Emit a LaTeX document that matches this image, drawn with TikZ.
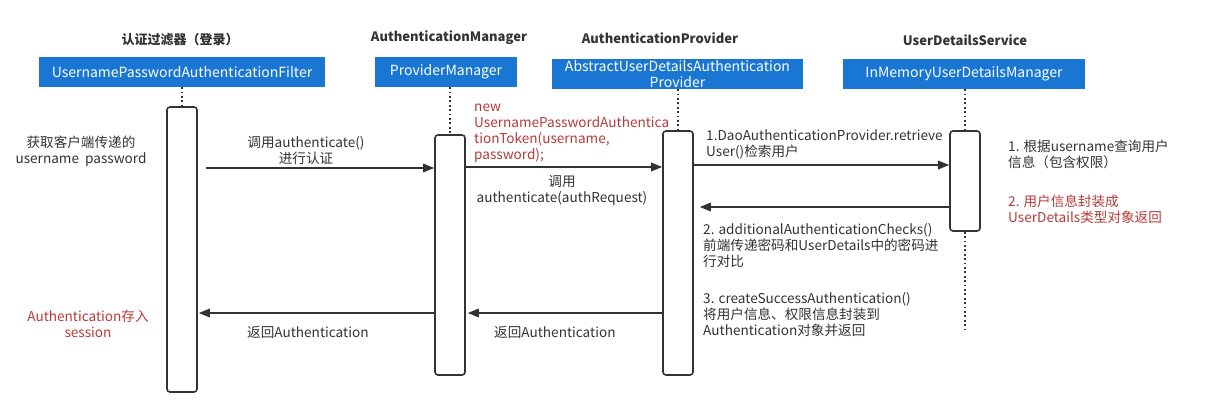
\documentclass[tikz,border=0pt]{standalone}
\usepackage{fontspec}
\setmainfont{Noto Sans CJK SC}
\usetikzlibrary{arrows.meta}
\definecolor{hdr}{HTML}{1976D2}
\definecolor{ink}{HTML}{333333}
\definecolor{redtxt}{HTML}{B83A3A}
\begin{document}
\begin{tikzpicture}[x=1pt,y=-1pt,
  title/.style={font=\fontsize{13}{16}\selectfont\bfseries, text=ink, inner sep=0pt},
  header/.style={fill=hdr, text=white, font=\fontsize{14}{16}\selectfont, inner sep=0pt, align=center, minimum height=30pt},
  act/.style={draw=ink, line width=1.6pt, rounded corners=3pt, fill=white, minimum width=30pt, inner sep=0pt},
  life/.style={draw=ink, line width=1.8pt, dash pattern=on 1.8pt off 2.6pt},
  msg/.style={draw=ink, line width=1.6pt, -{Triangle[length=11pt,width=8.5pt]}},
  txt/.style={font=\fontsize{13.6}{16}\selectfont, text=ink, inner sep=0pt},
  redt/.style={txt, text=redtxt}]
\useasboundingbox[fill=white] (0,0) rectangle (1210,407);

% titles
\node[title] (t1) at (180,40) {认证过滤器（登录）};
\node[title] (t2) at (449,38) {AuthenticationManager};
\node[title] (t3) at (660,38) {AuthenticationProvider};
\node[title] (t4) at (965,40) {UserDetailsService};

% headers
\node[header, minimum width=286pt] (h1) at (182,72) {UsernamePasswordAuthenticationFilter};
\node[header, minimum width=142pt] (h2) at (446,72) {ProviderManager};
\node[header, minimum width=251pt] (h3) at (677.5,74) {AbstractUserDetailsAuthentication\\Provider};
\node[header, minimum width=242pt] (h4) at (964,74) {InMemoryUserDetailsManager};

% activation bars
\node[act, minimum height=285pt] (a1) at (182,249.5) {};
\node[act, minimum height=240pt] (a2) at (450,255) {};
\node[act, minimum height=244pt] (a3) at (678,253) {};
\node[act, minimum height=100pt] (a4) at (965,181) {};

% lifelines
\draw[life] (a1.north |- h1.south) -- (a1.north);
\draw[life] (a2.north |- h2.south) -- (a2.north);
\draw[life] (a3.north |- h3.south) -- (a3.north);
\draw[life] (a4.north |- h4.south) -- (a4.north);
\coordinate (e4) at (965,332);
\draw[life] (a4.south) -- (e4);

% message levels
\coordinate (y1) at (0,168);
\coordinate (y2) at (0,167);
\coordinate (y3) at (0,165);
\coordinate (y4) at (0,207);
\coordinate (y5) at (0,313);

\draw[msg] ([xshift=8pt]a1.east |- y1) -- (a2.west |- y1);
\draw[msg] (a2.east |- y2) -- (a3.west |- y2);
\draw[msg] (a3.east |- y3) -- (a4.west |- y3);
\draw[msg] (a4.west |- y4) -- ([xshift=6pt]a3.east |- y4);
\draw[msg] (a3.west |- y5) -- ([xshift=2pt]a2.east |- y5);
\draw[msg] (a2.west |- y5) -- ([xshift=1pt]a1.east |- y5);

% labels
\node[txt, align=center] (l0) at (81,151) {获取客户端传递的\\username\ \ password};
\node[txt, align=center] (l1) at (306,150) {调用authenticate()\\进行认证};
\node[redt, align=left, anchor=west] (l2) at (474,133) {new\\UsernamePasswordAuthentica\\tionToken(username,\\password);};
\node[txt, align=center] (l3) at (562,190.5) {调用\\authenticate(authRequest)};
\node[txt, align=left, anchor=west] (l4) at (706,144.5) {1.DaoAuthenticationProvider.retrieve\\User()检索用户};
\node[txt, align=left, anchor=west] (l5) at (1008,154) {1. 根据username查询用户\\信息（包含权限）};
\node[redt, align=left, anchor=west] (l6) at (1008,209.5) {2. 用户信息封装成\\UserDetails类型对象返回};
\node[txt, align=left, anchor=west] (l7) at (703,245) {2. additionalAuthenticationChecks()\\前端传递密码和UserDetails中的密码进\\行对比};
\node[txt, align=left, anchor=west] (l8) at (703,315) {3. createSuccessAuthentication()\\将用户信息、权限信息封装到\\Authentication对象并返回};
\node[txt, anchor=west] (l9) at (247,332) {返回Authentication};
\node[txt, anchor=west] (l10) at (494,332) {返回Authentication};
\node[redt, align=center] (l11) at (88,324) {Authentication存入\\session};
\end{tikzpicture}
\end{document}
